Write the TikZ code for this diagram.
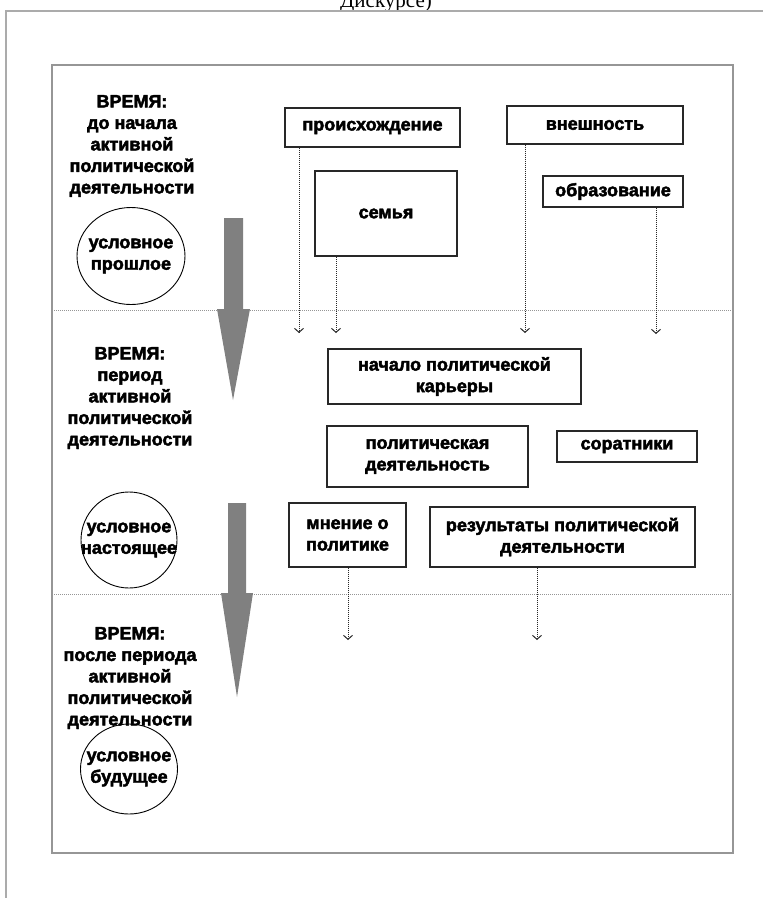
\documentclass[tikz,border=0pt]{standalone}
\usepackage{fontspec}
\setmainfont{Liberation Sans}[BoldFeatures={FakeBold=2.5}]
\newfontfamily\serifcap{Liberation Serif}
\usetikzlibrary{shapes.geometric,arrows.meta}
\definecolor{framegray}{RGB}{150,150,150}
\definecolor{arrowgray}{RGB}{128,128,128}
\definecolor{inkgray}{RGB}{40,40,40}

\begin{document}
\begin{tikzpicture}[x=1pt,y=-1pt,
        every node/.style={font=\fontsize{18}{21.5}\selectfont\bfseries,text=black},
        box/.style={draw=inkgray,line width=1.3pt,inner sep=0pt,align=center},
        oval/.style={ellipse,draw=black,line width=0.9pt,inner xsep=-18pt,inner ysep=0pt,align=center},
        timetxt/.style={align=center,inner sep=0pt},
        sep/.style={draw=framegray,line width=1pt,dash pattern=on 1pt off 1pt},
        link/.style={draw=inkgray,line width=1pt,dash pattern=on 1pt off 1pt,
            -{Straight Barb[length=4pt,width=9pt,line width=1pt]}},
        bigarrow/.style={fill=arrowgray}]
    \useasboundingbox (0,0) rectangle (763,898);
    \clip (0,0) rectangle (763,898);
    \node[anchor=base,font=\fontsize{21}{24}\selectfont\serifcap] (title) at (386,7) {Дискурсе)};
    \draw[framegray!80,line width=1.2pt] (5,11) -- (763,11) (6,11) -- (6,898);
    \draw[framegray,line width=1.8pt] (52,65) rectangle (733,853);
    \draw[sep] (52,310) -- (733,310);
    \draw[sep] (52,594) -- (733,594);

    \node[timetxt] (time1) at (132,146) {ВРЕМЯ:\\до начала\\активной\\политической\\деятельности};
    \node[oval,minimum width=108,minimum height=97] (past) at (131,256) {условное\\прошлое};
    \node[timetxt] (time2) at (130,398) {ВРЕМЯ:\\период\\активной\\политической\\деятельности};
    \node[oval,minimum width=96,minimum height=96] (present) at (129,540) {условное\\настоящее};
    \node[timetxt] (time3) at (130,678) {ВРЕМЯ:\\после периода\\активной\\политической\\деятельности};
    \node[oval,minimum width=97,minimum height=90] (future) at (129,769) {условное\\будущее};

    \fill[bigarrow] (224,218) -- (243,218) -- (243,309) -- (250,309) -- (233,400)
        -- (217,309) -- (224,309) -- cycle;
    \fill[bigarrow] (228,503) -- (246,503) -- (246,593) -- (253,593) -- (237,697)
        -- (221,593) -- (228,593) -- cycle;

    \node[box,minimum width=175,minimum height=39] (origin) at (372.5,127.5) {происхождение};
    \node[box,minimum width=176,minimum height=38] (looks) at (595,125) {внешность};
    \node[box,line width=2.4pt,minimum width=142,minimum height=85] (family) at (386,213.5) {семья};
    \node[box,minimum width=140,minimum height=31] (school) at (613,191.5) {образование};
    \node[box,minimum width=253,minimum height=55] (start) at (454.5,376.5) {начало политической\\карьеры};
    \node[box,minimum width=201,minimum height=61] (work) at (427.5,456.5) {политическая\\деятельность};
    \node[box,minimum width=140,minimum height=31] (allies) at (627,446.5) {соратники};
    \node[box,minimum width=117,minimum height=64] (opinion) at (347.5,535) {мнение о\\политике};
    \node[box,minimum width=265,minimum height=60] (results) at (562.5,537) {результаты политической\\деятельности};

    \coordinate (originEnd) at (299,333);
    \coordinate (familyEnd) at (336,333);
    \coordinate (looksEnd) at (525,333);
    \coordinate (schoolEnd) at (656,334);
    \coordinate (opinionEnd) at (348,640);
    \coordinate (resultsEnd) at (537,640);
    \draw[link] (origin.south -| originEnd) -- (originEnd);
    \draw[link] (family.south -| familyEnd) -- (familyEnd);
    \draw[link] (looks.south -| looksEnd) -- (looksEnd);
    \draw[link] (school.south -| schoolEnd) -- (schoolEnd);
    \draw[link] (opinion.south -| opinionEnd) -- (opinionEnd);
    \draw[link] (results.south -| resultsEnd) -- (resultsEnd);
\end{tikzpicture}
\end{document}
